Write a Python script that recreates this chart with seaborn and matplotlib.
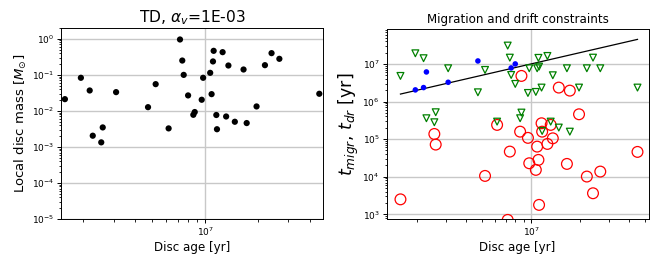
import numpy as np
import pandas as pd
import matplotlib
matplotlib.use("Agg")
import matplotlib.pyplot as plt
import seaborn as sns

plt.rcParams.update(matplotlib.rcParamsDefault)
plt.rcParams['font.family'] = ['DejaVu Sans']
plt.rcParams['mathtext.fontset'] = 'dejavusans'

# ---- data ----
disc_age = [1.58e6, 1.95e6, 2.19e6, 2.28e6, 2.55e6, 2.60e6, 3.10e6, 4.72e6, 5.22e6, 6.19e6,
            7.19e6, 7.41e6, 7.55e6, 8.00e6, 8.57e6, 8.73e6, 9.57e6, 9.75e6, 1.07e7, 1.09e7,
            1.11e7, 1.12e7, 1.16e7, 1.17e7, 1.26e7, 1.32e7, 1.36e7, 1.48e7, 1.66e7, 1.73e7,
            1.97e7, 2.20e7, 2.40e7, 2.66e7, 4.50e7]
disc_mass = [2.12e-2, 8.30e-2, 3.69e-2, 2.05e-3, 1.34e-3, 3.48e-3, 3.32e-2, 1.27e-2, 5.53e-2, 3.27e-3,
             0.96, 0.25, 0.10, 2.69e-2, 7.8e-3, 9.3e-3, 2.04e-2, 8.3e-2, 0.114, 2.92e-2,
             0.236, 0.465, 7.7e-3, 3.1e-3, 0.427, 7.0e-3, 0.182, 5.0e-3, 0.141, 4.6e-3,
             1.33e-2, 0.186, 0.401, 0.279, 2.99e-2]
t_migr = [2.5e3, 2.04e6, 2.35e6, 6.12e6, 1.37e5, 7.16e4, 3.25e6, 1.20e7, 1.05e4, 2.39e5,
          7.1e2, 4.66e4, 7.83e6, 1.0e7, 1.58e5, 4.80e6, 1.08e5, 2.28e4, 1.52e4, 6.32e4,
          2.80e4, 1.78e3, 2.64e5, 1.58e5, 7.45e4, 2.39e5, 1.05e5, 2.35e6, 2.19e4, 1.95e6,
          4.58e5, 1.01e4, 3.63e3, 1.37e4, 4.57e4]
t_drift = [4.80e6, 1.92e7, 1.42e7, 3.59e5, 2.81e5, 5.19e5, 7.67e6, 1.76e6, 6.92e6, 2.92e5,
           3.08e7, 1.47e7, 5.09e6, 2.94e6, 3.59e5, 5.08e5, 1.69e6, 7.67e6, 1.80e6, 7.67e6,
           1.45e7, 8.49e6, 2.35e6, 1.65e5, 1.63e7, 2.92e5, 5.0e6, 2.03e5, 7.67e6, 1.58e5,
           2.35e6, 7.67e6, 1.47e7, 7.67e6, 2.35e6]

df = pd.DataFrame({"age": disc_age, "mass": disc_mass, "tm": t_migr, "td": t_drift})
slow = df[df.tm >= df.age]
fast = df[df.tm < df.age]
line_df = pd.DataFrame({"age": [df.age.min(), df.age.max()]})

fig = plt.figure(figsize=(6.64, 2.66), dpi=100)
ax1 = fig.add_axes([61/664, 1-219/266, 262/664, 191/266])
ax2 = fig.add_axes([386.5/664, 1-219/266, 262.2/664, 190/266])

tick_fs = 6.5
grid_kw = dict(color='#c8c8c8', linewidth=1.0)

# ---- left panel ----
sns.scatterplot(data=df, x="age", y="mass", ax=ax1, color='black', s=20,
                edgecolor='none', zorder=3)
ax1.set_xscale('log')
ax1.set_yscale('log')
ax1.set_xlim(df.age.min()*0.95, df.age.max()*1.05)
ax1.set_ylim(1e-5, 2.0)
ax1.set_xlabel('Disc age [yr]', fontsize=8.6, labelpad=2)
ax1.set_ylabel(r'Local disc mass [$M_{\odot}$]', fontsize=9.5, labelpad=2)
ax1.set_title(r'TD, $\alpha_v$=1E-03', fontsize=11.2, pad=4)
ax1.grid(True, which='major', **grid_kw)

# ---- right panel ----
sns.lineplot(data=line_df, x="age", y="age", ax=ax2, color='black', linewidth=0.9, zorder=2)
sns.scatterplot(data=fast, x="age", y="tm", ax=ax2, marker='o', s=60,
                facecolor='none', edgecolor='red', linewidth=0.9, zorder=3)
sns.scatterplot(data=df, x="age", y="td", ax=ax2, marker='v', s=24,
                facecolor='none', edgecolor='green', linewidth=0.9, zorder=4)
sns.scatterplot(data=slow, x="age", y="tm", ax=ax2, color='blue', s=16,
                edgecolor='none', zorder=5)
ax2.set_xscale('log')
ax2.set_yscale('log')
ax2.set_xlim(10**6.113, 10**7.722)
ax2.set_ylim(750, 8.5e7)
ax2.set_xlabel('Disc age [yr]', fontsize=8.6, labelpad=2)
ax2.set_ylabel(r'$t_{migr}$, $t_{dr}$ [yr]', fontsize=12.5, labelpad=1)
ax2.set_title('Migration and drift constraints', fontsize=8.6, pad=4)
ax2.grid(True, which='major', **grid_kw)

for ax in (ax1, ax2):
    ax.set_axisbelow(True)
    ax.tick_params(axis='both', which='major', labelsize=tick_fs, length=3, width=0.7,
                   pad=2, colors='black')
    ax.tick_params(axis='both', which='minor', length=1.8, width=0.6, colors='black')
    for sp in ax.spines.values():
        sp.set_linewidth(0.7)
        sp.set_color('black')
        sp.set_visible(True)

fig.savefig('out.png', dpi=100)
